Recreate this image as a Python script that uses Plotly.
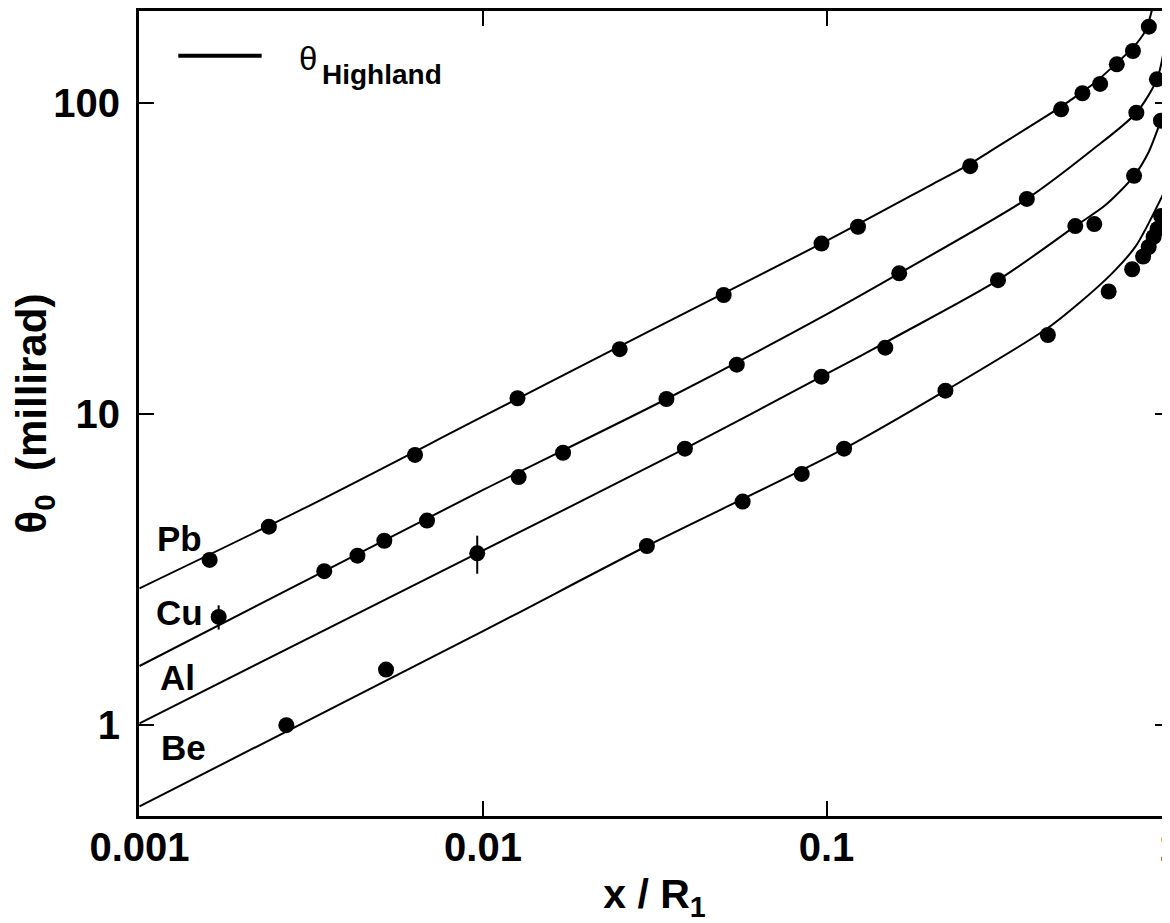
import plotly.graph_objects as go

FONT = "Liberation Sans, Arial, Helvetica, sans-serif"

# ---- measured points (x / R1, theta0 in mrad) ----
pb_x = [0.00160, 0.00238, 0.00634, 0.0126, 0.0250, 0.0502, 0.0967, 0.1235, 0.262, 0.482, 0.556, 0.626, 0.700, 0.780, 0.868]
pb_y = [3.40, 4.35, 7.40, 11.26, 16.2, 24.2, 35.4, 40.1, 62.8, 95.7, 107.8, 115.5, 133.6, 147.4, 176.5]

cu_x = [0.00170, 0.00345, 0.00431, 0.00516, 0.00687, 0.0127, 0.0171, 0.0342, 0.0548, 0.1628, 0.383, 0.798, 0.916]
cu_y = [2.23, 3.13, 3.51, 3.92, 4.55, 6.28, 7.52, 11.2, 14.44, 28.4, 49.3, 93.3, 119.5]
cu_err = [0.2, None, None, None, None, None, None, None, None, None, None, None, None]

al_x = [0.00962, 0.0387, 0.0967, 0.1483, 0.3157, 0.530, 0.602, 0.786, 0.941]
al_y = [3.57, 7.75, 13.21, 16.38, 27.0, 40.3, 40.9, 58.5, 88.0]
al_err = [0.5, None, None, None, None, None, None, None, None]

be_x = [0.002676, 0.00522, 0.0300, 0.0570, 0.0847, 0.1125, 0.2219, 0.441, 0.663, 0.776, 0.835, 0.867, 0.896, 0.920, 0.942]
be_y = [1.00, 1.51, 3.77, 5.24, 6.43, 7.75, 11.91, 17.99, 24.83, 29.27, 32.18, 34.52, 37.19, 39.45, 43.4]

# ---- Highland curves ----
pb_curve_x = [0.001, 0.003, 0.01, 0.03, 0.1, 0.2, 0.262, 0.3, 0.481, 0.5, 0.6, 0.7, 0.784, 0.85, 0.886]
pb_curve_y = [2.756, 4.97, 9.84, 18.34, 36.1, 54.4, 63.9, 70.2, 97.4, 100.4, 115.8, 134.9, 151.9, 172.0, 199.7]

cu_curve_x = [0.001, 0.00345, 0.01, 0.0342, 0.1, 0.1628, 0.383, 0.593, 0.798, 0.916, 0.958]
cu_curve_y = [1.55, 3.13, 5.71, 11.2, 20.97, 28.4, 49.3, 70.8, 93.3, 119.5, 146.7]

al_curve_x = [0.001, 0.00962, 0.0387, 0.1, 0.1628, 0.3157, 0.530, 0.649, 0.786, 0.867, 0.941, 0.975]
al_curve_y = [1.014, 3.57, 7.75, 13.48, 17.99, 27.0, 40.3, 47.1, 58.5, 69.8, 88.0, 97.5]

be_curve_x = [0.001, 0.01, 0.03, 0.1125, 0.2219, 0.441, 0.543, 0.678, 0.793, 0.867, 0.958]
be_curve_y = [0.548, 2.006, 3.77, 7.75, 11.91, 18.95, 22.75, 28.4, 34.6, 41.2, 51.4]

materials = ["Pb", "Cu", "Al", "Be"]
label_pos = [(0.0388, 0.3441), (0.0388, 0.2528), (0.0369, 0.1720), (0.0427, 0.0845)]

x_ticks = [0.001, 0.01, 0.1, 1]
x_ticktext = ["0.001", "0.01", "0.1", "1"]
y_ticks = [1, 10, 100]
y_ticktext = ["1", "10", "100"]

fig = go.Figure()

curves = [(pb_curve_x, pb_curve_y), (cu_curve_x, cu_curve_y), (al_curve_x, al_curve_y), (be_curve_x, be_curve_y)]
for cx, cy in curves:
    fig.add_trace(go.Scatter(x=cx, y=cy, mode="lines",
                             line=dict(color="black", width=2, shape="spline", smoothing=0.8),
                             showlegend=False, hoverinfo="skip"))

points = [(pb_x, pb_y, None), (cu_x, cu_y, cu_err), (al_x, al_y, al_err), (be_x, be_y, None)]
for px, py, err in points:
    kw = {}
    if err is not None:
        kw["error_y"] = dict(type="data", array=err, symmetric=True, color="black", thickness=2, width=0)
    fig.add_trace(go.Scatter(x=px, y=py, mode="markers",
                             marker=dict(color="black", size=16, line=dict(width=0)),
                             showlegend=False, **kw))

# helper trace for the right-hand tick axis
fig.add_trace(go.Scatter(x=[0.01], y=[10], yaxis="y2", mode="markers",
                         marker=dict(opacity=0), showlegend=False, hoverinfo="skip"))

annotations = []
for name, (ax, ay) in zip(materials, label_pos):
    annotations.append(dict(xref="paper", yref="paper", x=ax, y=ay, text=name, showarrow=False,
                            xanchor="center", yanchor="middle",
                            font=dict(family=FONT, size=35, color="black", weight="bold")))
# legend text
annotations.append(dict(xref="paper", yref="paper", x=0.1644, y=0.9411, text="θ", showarrow=False,
                        xanchor="center", yanchor="middle",
                        font=dict(family=FONT, size=33, color="black")))
annotations.append(dict(xref="paper", yref="paper", x=0.1756, y=0.9217, text="Highland", showarrow=False,
                        xanchor="left", yanchor="middle",
                        font=dict(family=FONT, size=28, color="black", weight="bold")))

# The page body adds an 8px margin, so the figure is 8px smaller than the window
fig.update_layout(
    width=1162, height=915,
    margin=dict(l=131, r=0, t=3, b=107),
    paper_bgcolor="white", plot_bgcolor="white",
    showlegend=False,
    font=dict(family=FONT, color="black"),
    xaxis=dict(type="log", range=[-3.0015, 0], tickvals=x_ticks, ticktext=x_ticktext,
               ticks="inside", ticklen=15, tickwidth=2, tickcolor="black",
               showline=True, linewidth=3, linecolor="black", mirror="ticks",
               showgrid=False, zeroline=False, ticklabelstandoff=-6,
               automargin=False, ticklabeloverflow="allow",
               tickfont=dict(family=FONT, size=40, color="black", weight="bold"),
               title=dict(text="x / R<sub>1</sub>", standoff=29,
                          font=dict(family=FONT, size=41, color="black", weight="bold"))),
    yaxis=dict(type="log", range=[-0.2921, 2.2972], tickvals=y_ticks, ticktext=y_ticktext,
               ticks="inside", ticklen=15, tickwidth=2, tickcolor="black",
               showline=True, linewidth=3, linecolor="black", mirror=False,
               showgrid=False, zeroline=False, ticklabelstandoff=8,
               automargin=False, ticklabeloverflow="allow",
               tickfont=dict(family=FONT, size=40, color="black", weight="bold"),
               title=dict(text="θ<sub>0</sub>&nbsp; (millirad)", standoff=4,
                          font=dict(family=FONT, size=42, color="black", weight="bold"))),
    yaxis2=dict(type="log", range=[-0.2921, 2.2972], tickvals=y_ticks, overlaying="y", side="right",
                anchor="x", ticks="inside", ticklen=15, tickwidth=2, tickcolor="black",
                automargin=False,
                showticklabels=False, showline=False, showgrid=False, zeroline=False),
    annotations=annotations,
    shapes=[dict(type="line", xref="paper", yref="paper", x0=0.0381, x1=0.1190, y0=0.9443, y1=0.9443,
                 line=dict(color="black", width=4))],
)

fig.write_html("out.html")
